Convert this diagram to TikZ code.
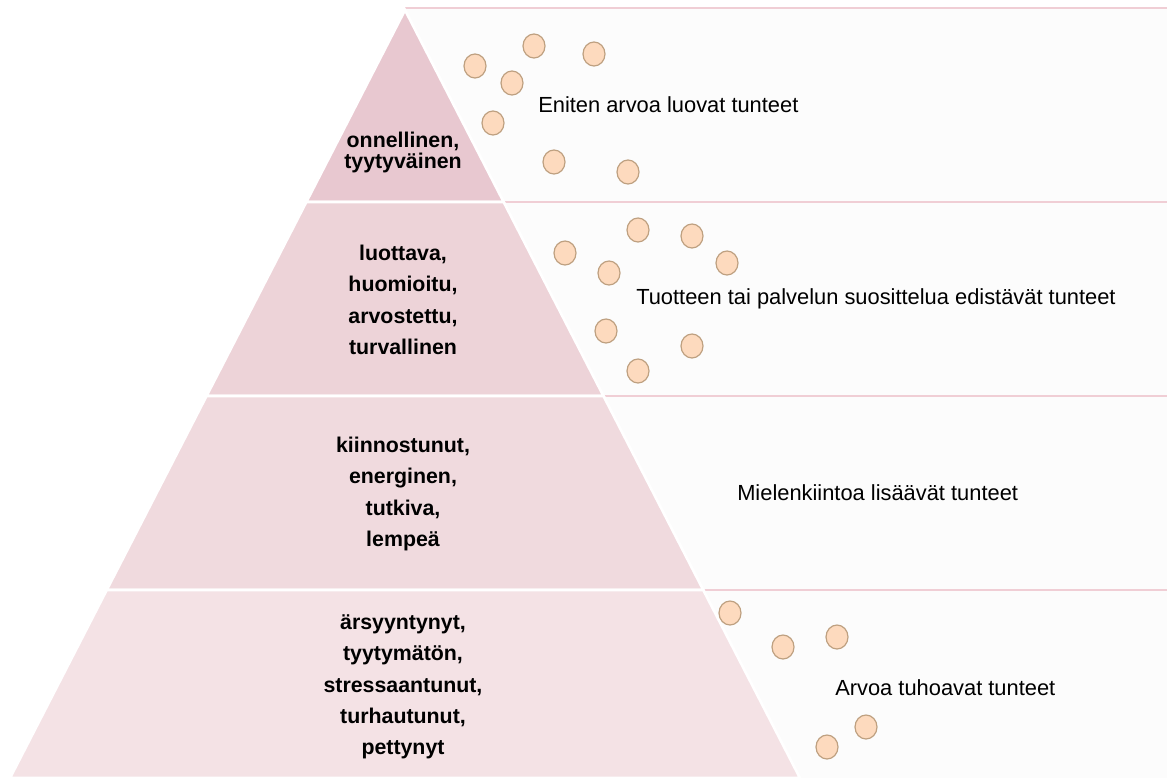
\documentclass[tikz,border=0pt]{standalone}
\usepackage{fontspec}
\setmainfont{Liberation Sans}
\usetikzlibrary{positioning}
\definecolor{bandA}{RGB}{232,200,208}
\definecolor{bandB}{RGB}{237,211,216}
\definecolor{bandC}{RGB}{240,218,222}
\definecolor{bandD}{RGB}{244,226,229}
\definecolor{panel}{RGB}{252,252,252}
\definecolor{seppink}{RGB}{240,206,213}
\definecolor{dotfill}{RGB}{253,218,190}
\definecolor{dotline}{RGB}{190,160,128}
\tikzset{
  band/.style={draw=white,line width=2pt,line join=miter},
  sepline/.style={draw=seppink,line width=1.1pt},
  dot/.style={fill=dotfill,draw=dotline,line width=0.9pt},
  emo/.style={font=\bfseries\fontsize{16}{23.5}\selectfont,align=center,inner sep=0pt},
  side/.style={font=\fontsize{16.4}{19}\selectfont,anchor=west,inner sep=0pt}
}
\begin{document}
\begin{tikzpicture}[x=0.75pt,y=0.75pt,yscale=-1,xscale=1]
	\useasboundingbox (0,0) rectangle (1167,778);
	
	%Shape: right panel
	\fill [panel] (405,8) -- (1167,8) -- (1167,778) -- (800,778) -- cycle ;
	%Straight Lines: panel separators
	\draw [sepline] (405,8) -- (1167,8) ;
	\draw [sepline] (504,202) -- (1167,202) ;
	\draw [sepline] (604,396) -- (1167,396) ;
	\draw [sepline] (704,590) -- (1167,590) ;
	
	%Shape: pyramid bands
	\draw [band,fill=bandA] (405,10) -- (503.7,202) -- (306.3,202) -- cycle ;
	\draw [band,fill=bandB] (306.3,202) -- (503.7,202) -- (603.5,396) -- (206.5,396) -- cycle ;
	\draw [band,fill=bandC] (206.5,396) -- (603.5,396) -- (703.3,590) -- (106.7,590) -- cycle ;
	\draw [band,fill=bandD] (106.7,590) -- (703.3,590) -- (800,778) -- (10,778) -- cycle ;
	
	%Shape: Circles
	\foreach \cx/\cy in {475/66,534/46,594/54,512/83,493/123,554/162,628/172,
	                     565/253,638/230,692/236,727/263,609/273,606/331,692/346,638/371,
	                     730/613,783/647,837/637,866/727,827/747}
	  \draw [dot] (\cx,\cy) ellipse (11 and 12) ;
	
	% Text Node
	\node [emo,font=\bfseries\fontsize{16}{15.75}\selectfont] (happy) at (403,152) {onnellinen,\\tyytyväinen};
	% Text Node
	\node [emo] (trust) at (403,300) {luottava,\\huomioitu,\\arvostettu,\\turvallinen};
	% Text Node
	\node [emo] (interest) at (403,494) {kiinnostunut,\\energinen,\\tutkiva,\\lempeä};
	% Text Node
	\node [emo] (annoyed) at (403,687) {ärsyyntynyt,\\tyytymätön,\\stressaantunut,\\turhautunut,\\pettynyt};
	
	% Text Node
	\node [side] (lblHappy) at (538,105) {Eniten arvoa luovat tunteet};
	% Text Node
	\node [side] (lblTrust) at (636,299) {Tuotteen tai palvelun suosittelua edistävät tunteet};
	% Text Node
	\node [side] (lblInterest) at (737,493) {Mielenkiintoa lisäävät tunteet};
	% Text Node
	\node [side] (lblAnnoyed) at (835,688) {Arvoa tuhoavat tunteet};
	
\end{tikzpicture}
\end{document}
